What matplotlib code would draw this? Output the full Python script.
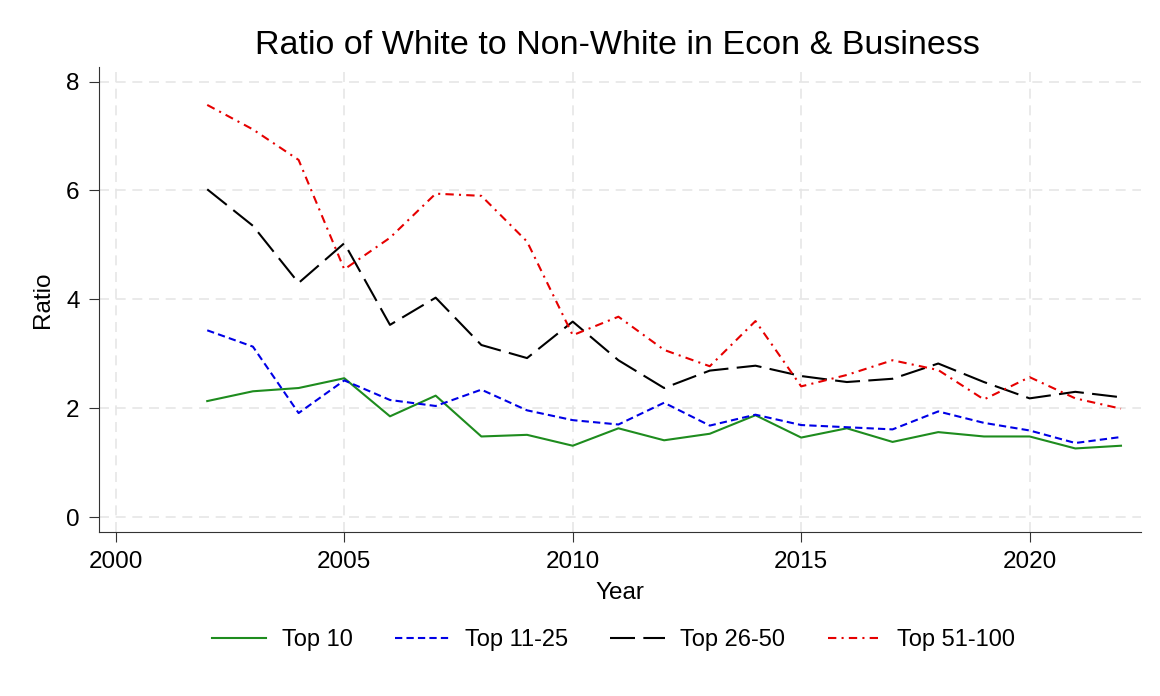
import matplotlib
matplotlib.use("Agg")
import matplotlib.pyplot as plt

plt.rcParams["font.family"] = ["Liberation Sans", "DejaVu Sans"]

years = list(range(2002, 2023))
top10 = [2.13, 2.31, 2.37, 2.55, 1.85, 2.23, 1.48, 1.51, 1.31, 1.63, 1.41,
         1.53, 1.87, 1.46, 1.63, 1.38, 1.56, 1.48, 1.48, 1.26, 1.31]
top11_25 = [3.43, 3.13, 1.91, 2.51, 2.15, 2.04, 2.34, 1.96, 1.78, 1.70, 2.10,
            1.68, 1.88, 1.69, 1.65, 1.61, 1.94, 1.73, 1.59, 1.36, 1.47]
top26_50 = [6.02, 5.35, 4.30, 5.03, 3.53, 4.03, 3.16, 2.92, 3.59, 2.88, 2.37,
            2.69, 2.78, 2.59, 2.48, 2.54, 2.82, 2.48, 2.18, 2.30, 2.20]
top51_100 = [7.57, 7.12, 6.56, 4.55, 5.13, 5.94, 5.90, 5.06, 3.34, 3.68, 3.07,
             2.77, 3.60, 2.40, 2.61, 2.88, 2.70, 2.16, 2.57, 2.18, 1.99]

xticks = [2000, 2005, 2010, 2015, 2020]
yticks = [0, 2, 4, 6, 8]

fig = plt.figure(figsize=(11.6, 6.96), dpi=100)
ax = fig.add_axes([0.0853, 0.236, 0.898, 0.668])

ax.plot(years, top10, color="#1E8C1E", linewidth=1.5, label="Top 10")
ax.plot(years, top11_25, color="#0000E6", linewidth=1.5, dashes=(3.5, 2),
        label="Top 11-25")
ax.plot(years, top26_50, color="black", linewidth=1.5, dashes=(12, 4),
        label="Top 26-50")
ax.plot(years, top51_100, color="#E60000", linewidth=1.5,
        dashes=(4, 2.5, 1, 2.5), label="Top 51-100")

ax.set_xlim(1999.63, 2022.43)
ax.set_ylim(-0.27, 8.27)
ax.set_xticks(xticks)
ax.set_yticks(yticks)
ax.grid(True, color="#e6e6e6", linestyle=(0, (6, 4)), linewidth=1.2)
ax.set_axisbelow(True)
for s in ["top", "right"]:
    ax.spines[s].set_visible(False)
for s in ["left", "bottom"]:
    ax.spines[s].set_color("#333333")
ax.tick_params(labelsize=17.5, length=7, color="#333333", pad=7)

ax.set_xlabel("Year", fontsize=17.5)
ax.set_ylabel("Ratio", fontsize=17.5)
ax.xaxis.set_label_coords(0.5, -0.108)
ax.yaxis.set_label_coords(-0.0432, 0.5)
fig.text(0.532, 0.934, "Ratio of White to Non-White in Econ & Business",
         fontsize=24.5, ha="center", va="center")

fig.legend(loc="center", bbox_to_anchor=(0.529, 0.08), ncol=4, frameon=False,
           fontsize=17, handlelength=2.3, handletextpad=0.65,
           columnspacing=1.8)

fig.savefig("out.png", dpi=100)
